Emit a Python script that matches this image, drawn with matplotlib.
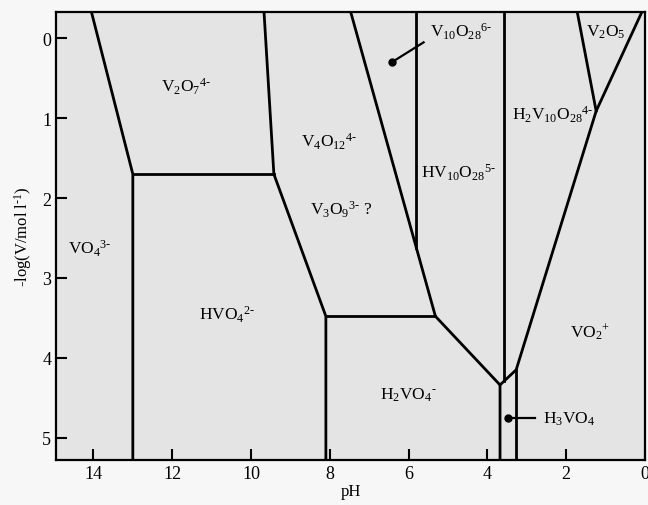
import matplotlib
matplotlib.use('Agg')
from matplotlib import pyplot as plt

plt.rcParams['font.family'] = ['Liberation Serif', 'DejaVu Serif']
plt.rcParams['mathtext.fontset'] = 'custom'
plt.rcParams['mathtext.rm'] = 'Liberation Serif'
plt.rcParams['mathtext.it'] = 'Liberation Serif:italic'
plt.rcParams['mathtext.bf'] = 'Liberation Serif:bold'

H = '\u2010'  # short hyphen for charges, as in the original figure

# axis ranges (pH is reversed, -log V grows downward)
ph_range = [14.95, 0.0]
logv_range = [5.28, -0.33]
ph_ticks = [14, 12, 10, 8, 6, 4, 2, 0]
logv_ticks = [0, 1, 2, 3, 4, 5]

# boundary lines: pH values and -log(V) values
vo4_ph = [14.05, 13.0, 13.0]
vo4_logv = [-0.33, 1.7, 5.28]
v2o7_bottom_ph = [13.0, 9.42]
v2o7_bottom_logv = [1.7, 1.7]
v2o7_right_ph = [9.67, 9.42, 8.1, 8.1]
v2o7_right_logv = [-0.33, 1.7, 3.48, 5.28]
h2vo4_top_ph = [8.1, 5.32]
h2vo4_top_logv = [3.48, 3.48]
v4o12_right_ph = [7.47, 5.32, 3.68, 3.68]
v4o12_right_logv = [-0.33, 3.48, 4.34, 5.28]
v10_ph = [5.8, 5.8]
v10_logv = [-0.33, 2.63]
hv10_right_ph = [3.58, 3.58]
hv10_right_logv = [-0.33, 4.29]
vo2_left_ph = [3.68, 3.27, 1.24, 0.08]
vo2_left_logv = [4.34, 4.15, 0.91, -0.33]
h3vo4_right_ph = [3.27, 3.27]
h3vo4_right_logv = [4.15, 5.28]
v2o5_left_ph = [1.72, 1.24]
v2o5_left_logv = [-0.33, 0.91]

boundaries = [
    (vo4_ph, vo4_logv),
    (v2o7_bottom_ph, v2o7_bottom_logv),
    (v2o7_right_ph, v2o7_right_logv),
    (h2vo4_top_ph, h2vo4_top_logv),
    (v4o12_right_ph, v4o12_right_logv),
    (v10_ph, v10_logv),
    (hv10_right_ph, hv10_right_logv),
    (vo2_left_ph, vo2_left_logv),
    (h3vo4_right_ph, h3vo4_right_logv),
    (v2o5_left_ph, v2o5_left_logv),
]

# species labels
species = ['VO$_4$$^{3' + H + '}$', 'V$_2$O$_7$$^{4' + H + '}$', 'HVO$_4$$^{2' + H + '}$',
           'V$_4$O$_{12}$$^{4' + H + '}$', 'V$_3$O$_9$$^{3' + H + '}$ ?',
           'HV$_{10}$O$_{28}$$^{5' + H + '}$', 'H$_2$V$_{10}$O$_{28}$$^{4' + H + '}$',
           'V$_2$O$_5$', 'VO$_2$$^{+}$', 'H$_2$VO$_4$$^{' + H + '}$']
species_ph = [14.1, 11.65, 10.6, 8.03, 7.72, 4.73, 2.33, 1.0, 1.39, 6.0]
species_logv = [2.62, 0.6, 3.45, 1.28, 2.14, 1.67, 0.94, -0.09, 3.68, 4.46]

# pointer labels: dot position, line end, text
pointer_text = ['V$_{10}$O$_{28}$$^{6' + H + '}$', 'H$_3$VO$_4$']
pointer_dot_ph = [6.43, 3.47]
pointer_dot_logv = [0.30, 4.76]
pointer_end_ph = [5.62, 2.79]
pointer_end_logv = [0.05, 4.76]
pointer_text_ph = [5.45, 2.6]
pointer_text_logv = [-0.09, 4.76]


fig = plt.figure(figsize=(6.48, 5.06), dpi=100, facecolor='#f7f7f7')
ax = fig.add_axes([0.0864, 0.0889, 0.909, 0.8854])
ax.set_facecolor('#e4e4e4')

for ph, logv in boundaries:
    ax.plot(ph, logv, color='black', lw=2.0, solid_joinstyle='miter')

for name, x, y in zip(species, species_ph, species_logv):
    ax.text(x, y, name, ha='center', va='center', fontsize=12.5)

for i in range(len(pointer_text)):
    ax.plot([pointer_dot_ph[i], pointer_end_ph[i]],
            [pointer_dot_logv[i], pointer_end_logv[i]], color='black', lw=1.6)
    ax.plot(pointer_dot_ph[i], pointer_dot_logv[i], 'o', color='black', ms=5)
    ax.text(pointer_text_ph[i], pointer_text_logv[i], pointer_text[i],
            ha='left', va='center', fontsize=12.5)

ax.set_xlim(ph_range)
ax.set_ylim(logv_range)
ax.set_xticks(ph_ticks)
ax.set_yticks(logv_ticks)
ax.tick_params(direction='in', length=8, width=1.5, labelsize=13)
for spine in ax.spines.values():
    spine.set_linewidth(1.6)
ax.set_xlabel('pH', fontsize=12, labelpad=1)
ax.set_ylabel('-log(V/mol l$^{' + H + '1}$)', fontsize=12, labelpad=6)

fig.savefig('out.png', dpi=100, facecolor=fig.get_facecolor())
